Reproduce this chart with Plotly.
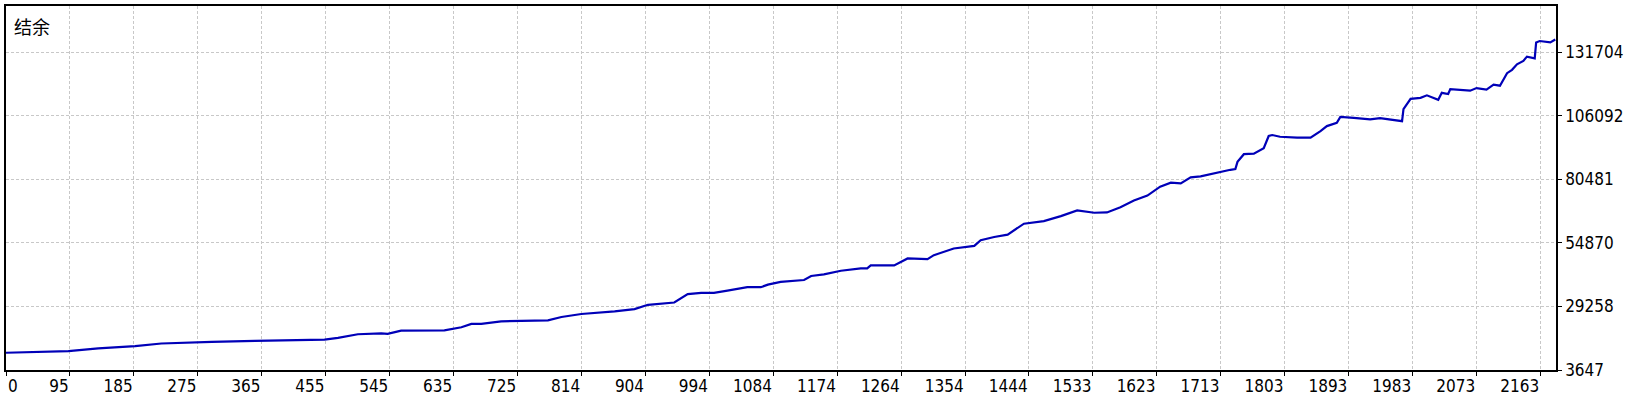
import plotly.graph_objects as go

# balance curve (trade number, balance)
trade_no = [0, 41, 88, 130, 182, 219, 271, 290, 351, 402, 449, 468, 496, 529, 538, 557,
            618, 642, 656, 670, 698, 764, 783, 811, 858, 886, 905, 942, 961, 980, 998,
            1017, 1045, 1064, 1074, 1092, 1125, 1135, 1153, 1177, 1205, 1214, 1219, 1252,
            1271, 1299, 1308, 1336, 1365, 1374, 1393, 1412, 1435, 1463, 1487, 1510, 1534,
            1552, 1571, 1590, 1609, 1627, 1642, 1656, 1670, 1684, 1707, 1726, 1733, 1736,
            1745, 1759, 1773, 1780, 1785, 1796, 1820, 1839, 1853, 1862, 1876, 1881, 1900,
            1923, 1937, 1956, 1968, 1970, 1980, 1994, 2003, 2019, 2024, 2033, 2036, 2064,
            2073, 2087, 2097, 2106, 2111, 2116, 2123, 2130, 2139, 2144, 2155, 2157, 2162,
            2172, 2177, 2184]
balance = [10610, 11010, 11250, 12330, 13250, 14330, 14610, 15010, 15410, 15650, 15930,
           16610, 18050, 18450, 18210, 19530, 19650, 20860, 22220, 22220, 23260, 23660,
           25020, 26220, 27260, 28220, 29940, 30860, 34220, 34740, 34740, 35660, 37020,
           37020, 38060, 39140, 39940, 41540, 42220, 43670, 44630, 44630, 45830, 45830,
           48630, 48350, 49950, 52630, 53670, 55950, 57270, 58230, 62630, 63670, 65680,
           67960, 67040, 67160, 69280, 71960, 73960, 77560, 79160, 78880, 81280, 81680,
           83280, 84360, 84640, 87570, 90650, 90890, 93050, 97970, 98370, 97690, 97290,
           97290, 99970, 101970, 103290, 105690, 105290, 104650, 105170, 104250, 103970,
           108770, 112980, 113380, 114380, 112580, 115380, 114900, 116900, 116260, 117300,
           116660, 118660, 118260, 120660, 123300, 124660, 126900, 128260, 129980, 129300,
           135710, 136270, 135990, 135710, 136910]

x_labels = ['0', '95', '185', '275', '365', '455', '545', '635', '725', '814', '904', '994',
            '1084', '1174', '1264', '1354', '1444', '1533', '1623', '1713', '1803', '1893',
            '1983', '2073', '2163']
y_ticks = [3647, 29258, 54870, 80481, 106092, 131704]

# the x ticks sit at equal spacing, labels are rounded trade numbers
step = 2163 / (len(x_labels) - 1)
x_vals = [i * step for i in range(len(x_labels))]
x_max = 2185
y_step = (y_ticks[-1] - y_ticks[0]) / (len(y_ticks) - 1)
y_max = y_ticks[0] + y_step * 5.7297

font_tick = 'DejaVu Sans Condensed, Liberation Sans, sans-serif'
grid = '#c8c8c8'

fig = go.Figure()
fig.add_trace(go.Scatter(x=trade_no, y=balance, mode='lines',
                         line=dict(color='#0000b8', width=2.2), hoverinfo='skip',
                         showlegend=False))

fig.add_annotation(x=0, y=1, xref='paper', yref='paper', text='结余', showarrow=False,
                   xanchor='left', yanchor='top', xshift=6, yshift=-5,
                   font=dict(family='Noto Sans CJK SC', size=18, color='black'))
fig.add_annotation(x=0, y=0, xref='x', yref='paper', text='0', showarrow=False,
                   xanchor='left', yanchor='top', xshift=0, yshift=-4,
                   font=dict(family=font_tick, size=17, color='black'))

fig.update_layout(width=1640, height=400, plot_bgcolor='white', paper_bgcolor='white',
                  margin=dict(l=4, r=84, t=4, b=29), showlegend=False)
fig.update_xaxes(range=[0, x_max], tickvals=x_vals, ticktext=[''] + x_labels[1:],
                 ticklabelposition='outside left', ticks='outside', ticklen=4,
                 tickcolor='black', showgrid=True, gridcolor=grid, griddash='3px,2px',
                 gridwidth=1, showline=True, linecolor='black', linewidth=1.5, mirror=True,
                 zeroline=False, tickfont=dict(family=font_tick, size=17, color='black'))
fig.update_yaxes(range=[y_ticks[0], y_max], side='right', tickvals=y_ticks,
                 ticktext=[str(v) for v in y_ticks], ticks='outside', ticklen=4,
                 tickcolor='black', showgrid=True, gridcolor=grid, griddash='3px,2px',
                 gridwidth=1, showline=True, linecolor='black', linewidth=1.5, mirror=True,
                 zeroline=False, tickfont=dict(family=font_tick, size=17, color='black'))

fig.write_html('out.html', config={'displayModeBar': False},
               post_script="document.body.style.margin='0';")
